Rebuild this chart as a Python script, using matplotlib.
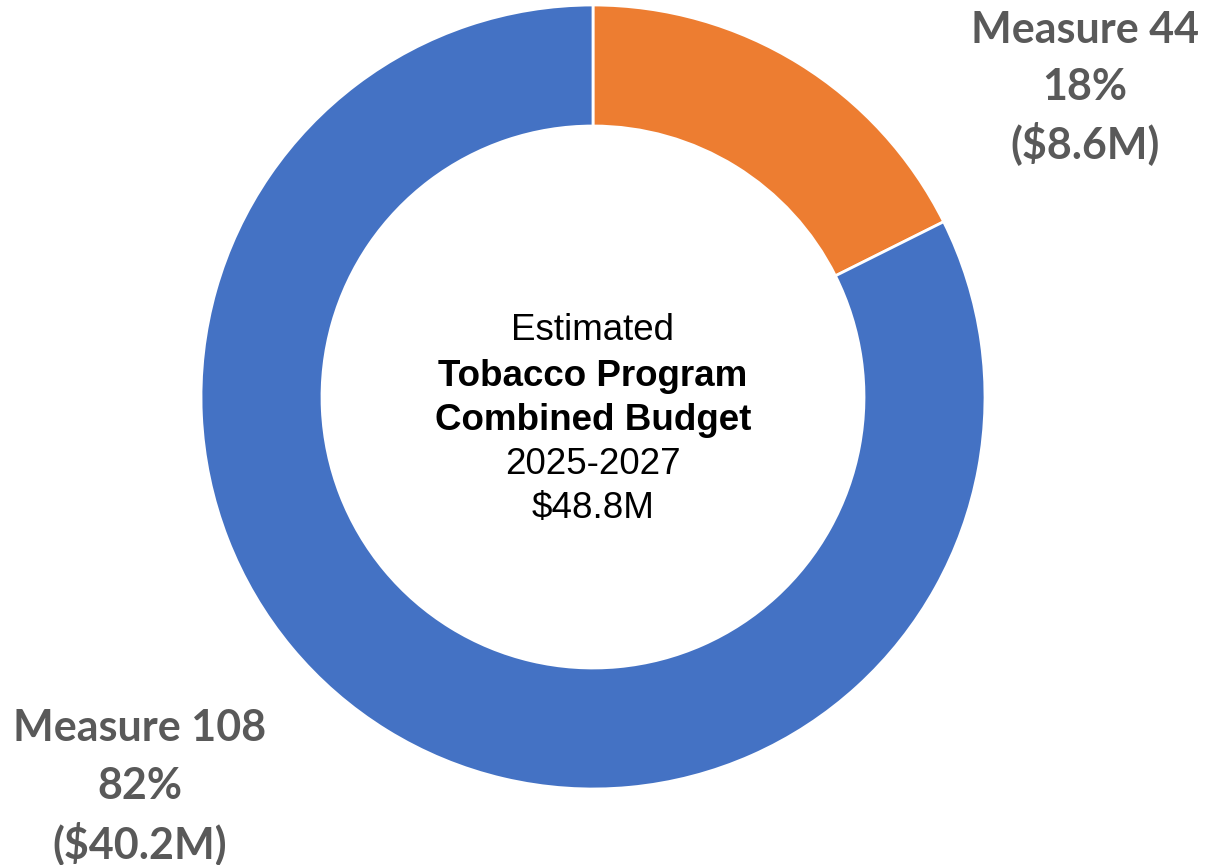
import matplotlib.pyplot as plt

# budget pieces ($M)
labels = ['Measure 44', 'Measure 108']
amounts = [8.6, 40.2]
pct_labels = ['18%', '82%']
amount_labels = ['($8.6M)', '($40.2M)']
colors = ['#ED7D31', '#4472C4']

center_lines = ['Estimated', 'Tobacco Program', 'Combined Budget', '2025-2027', '$48.8M']
center_bold = [False, True, True, False, False]

W, H = 1206, 865
fig = plt.figure(figsize=(W / 100, H / 100), dpi=100)
ax = fig.add_axes([0, 0, 1, 1])
ax.set_xlim(0, W)
ax.set_ylim(0, H)
ax.axis('off')

cx, cy = 593, H - 397
r_out = 392
r_in = 271

ax.pie(amounts, colors=colors, startangle=90, counterclock=False,
       center=(cx, cy), radius=r_out, frame=True,
       wedgeprops=dict(width=r_out - r_in, edgecolor='white', linewidth=2))
ax.set_xlim(0, W)
ax.set_ylim(0, H)
ax.set_aspect('equal')
ax.axis('off')

# centre text
ys = [330, 376, 420, 465, 509]
for line, b, y in zip(center_lines, center_bold, ys):
    ax.text(cx, H - y, line, ha='center', va='center', fontsize=26.5,
            family='Liberation Sans', fontweight='bold' if b else 'normal',
            color='black')

# outside labels
label_pos = [(1085, [30, 87, 143]), (140, [728, 786, 843])]
for i, (x, yl) in enumerate(label_pos):
    for txt, y in zip([labels[i], pct_labels[i], amount_labels[i]], yl):
        ax.text(x, H - y, txt, ha='center', va='center', fontsize=31,
                family='Lato', fontweight='bold', color='#595959')

fig.savefig('out.png', dpi=100)
